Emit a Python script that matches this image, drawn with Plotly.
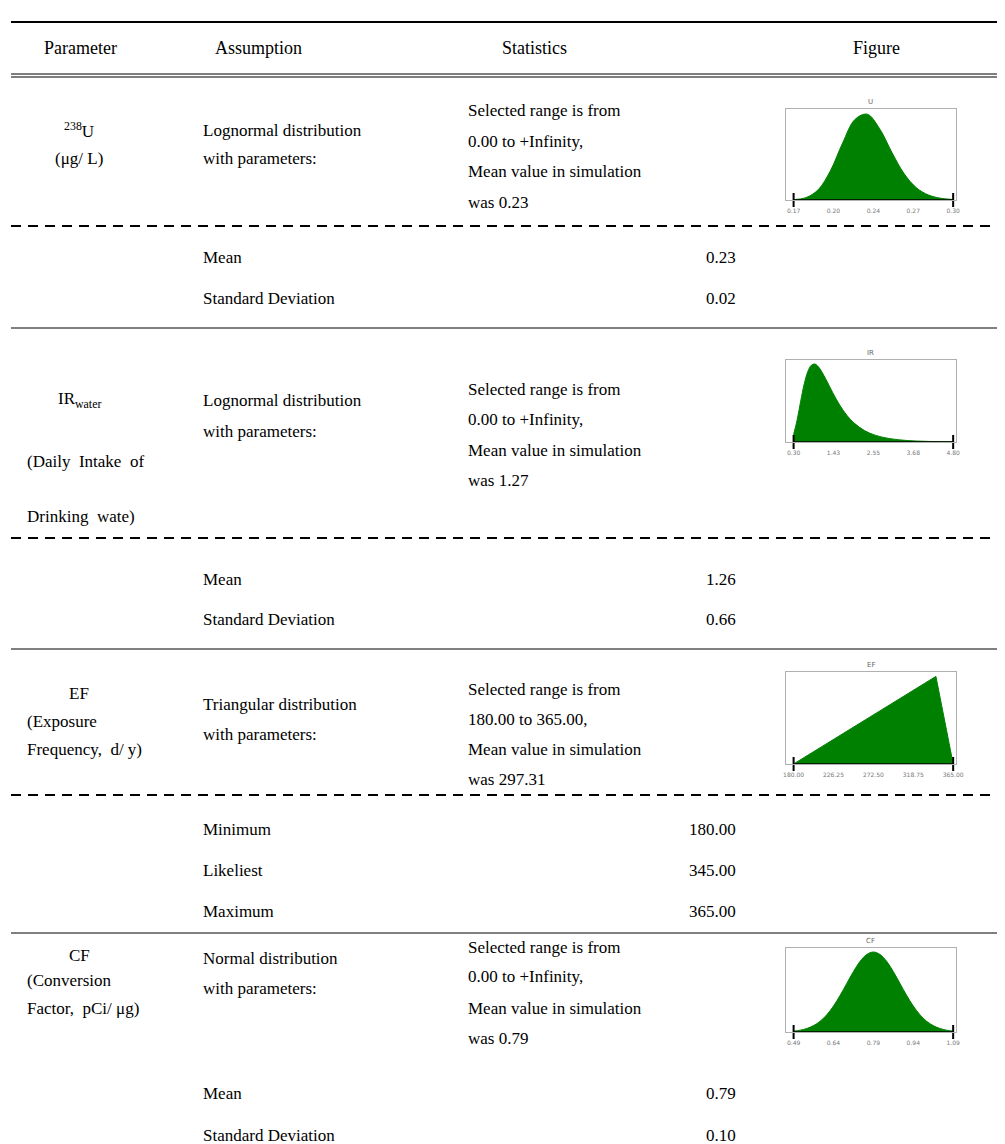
import plotly.graph_objects as go

W, H = 1005, 1144

# ---------------- data ----------------
headers = ["Parameter", "Assumption", "Statistics", "Figure"]
param_labels = [
    ["<sup>238</sup>U", "(μg/ L)"],
    ["IR<sub>water</sub>", "(Daily  Intake  of", "Drinking  wate)"],
    ["EF", "(Exposure", "Frequency,  d/ y)"],
    ["CF", "(Conversion", "Factor,  pCi/ μg)"],
]
assumptions = ["Lognormal distribution", "Lognormal distribution",
               "Triangular distribution", "Normal distribution"]
assumption_sub = "with parameters:"
stats_text = [
    ["Selected range is from", "0.00 to +Infinity,", "Mean value in simulation", "was 0.23"],
    ["Selected range is from", "0.00 to +Infinity,", "Mean value in simulation", "was 1.27"],
    ["Selected range is from", "180.00 to 365.00,", "Mean value in simulation", "was 297.31"],
    ["Selected range is from", "0.00 to +Infinity,", "Mean value in simulation", "was 0.79"],
]
param_names = [["Mean", "Standard Deviation"],
               ["Mean", "Standard Deviation"],
               ["Minimum", "Likeliest", "Maximum"],
               ["Mean", "Standard Deviation"]]
param_values = [["0.23", "0.02"],
                ["1.26", "0.66"],
                ["180.00", "345.00", "365.00"],
                ["0.79", "0.10"]]

# distribution shapes (relative height)
u_x = [0.17, 0.18, 0.19, 0.20, 0.21, 0.22, 0.23, 0.24, 0.25, 0.26, 0.27, 0.28, 0.29, 0.30]
u_y = [0.004, 0.027, 0.118, 0.337, 0.66, 0.93, 0.99, 0.825, 0.552, 0.305, 0.142, 0.057, 0.020, 0.006]
u_ticks = ["0.17", "0.20", "0.24", "0.27", "0.30"]

ir_x = [0.3, 0.4, 0.5, 0.6, 0.7, 0.8, 0.9, 1.0, 1.2, 1.4, 1.6, 1.8, 2.0,
        2.3, 2.6, 3.0, 3.5, 4.0, 4.5, 4.8]
ir_y = [0.094, 0.282, 0.523, 0.744, 0.901, 0.983, 0.998, 0.963, 0.814,
        0.635, 0.473, 0.343, 0.245, 0.146, 0.087, 0.044, 0.019, 0.009, 0.004, 0.0025]
ir_ticks = ["0.30", "1.43", "2.55", "3.68", "4.80"]

ef_x = [180.0, 345.0, 365.0]
ef_y = [0.0, 1.0, 0.0]
ef_ticks = ["180.00", "226.25", "272.50", "318.75", "365.00"]

cf_x = [0.49, 0.515, 0.54, 0.565, 0.59, 0.615, 0.64, 0.665, 0.69, 0.715, 0.74, 0.765,
        0.79, 0.815, 0.84, 0.865, 0.89, 0.915, 0.94, 0.965, 0.99, 1.015, 1.04, 1.065, 1.09]
cf_y = [0.011, 0.023, 0.044, 0.080, 0.135, 0.216, 0.325, 0.458, 0.607, 0.755, 0.883, 0.969,
        1.0, 0.969, 0.883, 0.755, 0.607, 0.458, 0.325, 0.216, 0.135, 0.080, 0.044, 0.023, 0.011]
cf_ticks = ["0.49", "0.64", "0.79", "0.94", "1.09"]

fig_titles = ["U", "IR", "EF", "CF"]
dists = [(u_x, u_y, u_ticks, "spline"), (ir_x, ir_y, ir_ticks, "spline"),
         (ef_x, ef_y, ef_ticks, "linear"), (cf_x, cf_y, cf_ticks, "spline")]

# ---------------- layout positions (pixels) ----------------
def px(x):
    return x / W

def py(y):
    return 1 - y / H

FONT = "Liberation Serif"
BODY = 17
header_x = [70, 250, 529, 875]
header_y = 40
param_center_x = 69
param_left_x = 14
assump_x = 192
stats_x = 460
value_right_x = 735
fig_x0, fig_x1 = 784, 955
param_y = [[122, 151], [392, 453, 508], [685, 713, 741], [947, 972, 1000]]
assump_y = [[122, 151], [392, 423], [696, 726], [950, 980]]
stats_y = [[102, 133, 164, 194], [381, 411, 442, 473], [681, 711, 741, 771], [939, 969, 1000, 1030]]
pv_y = [[249, 290], [571, 611], [821, 862, 903], [1085, 1127]]
fig_box = [(101, 192), (352, 434), (664, 756), (940, 1024)]
dash_lines = [218, 530, 787]
solid_lines = [320, 641, 925]

fig = go.Figure()
annotations = []
shapes = []

def add_text(x, y, text, anchor="left", size=BODY):
    annotations.append(dict(x=px(x), y=py(y), xref="paper", yref="paper", text=text,
                            showarrow=False, xanchor=anchor, yanchor="middle",
                            font=dict(family=FONT, size=size, color="black")))

for hx, h in zip(header_x, headers):
    add_text(hx, header_y, h, "center", 18)

for i in range(4):
    labels = param_labels[i]
    for j, lab in enumerate(labels):
        if j == 0 or i == 0:
            add_text(param_center_x, param_y[i][j], lab, "center")
        else:
            add_text(param_left_x, param_y[i][j], lab, "left")
    add_text(assump_x, assump_y[i][0], assumptions[i])
    add_text(assump_x, assump_y[i][1], assumption_sub)
    for j, s in enumerate(stats_text[i]):
        add_text(stats_x, stats_y[i][j], s)
    for j, (n, v) in enumerate(zip(param_names[i], param_values[i])):
        add_text(assump_x, pv_y[i][j], n)
        add_text(value_right_x, pv_y[i][j], v, "right")

# rules
shapes.append(dict(type="line", xref="paper", yref="paper", x0=0, x1=1, y0=py(14), y1=py(14),
                   line=dict(color="black", width=2)))
for yy in (66, 69):
    shapes.append(dict(type="line", xref="paper", yref="paper", x0=0, x1=1, y0=py(yy), y1=py(yy),
                       line=dict(color="black", width=1.2)))
for yy in dash_lines:
    shapes.append(dict(type="line", xref="paper", yref="paper", x0=0, x1=1, y0=py(yy), y1=py(yy),
                       line=dict(color="black", width=2, dash="10px,7px")))
for yy in solid_lines:
    shapes.append(dict(type="line", xref="paper", yref="paper", x0=0, x1=1, y0=py(yy), y1=py(yy),
                       line=dict(color="black", width=1)))

# mini figures
for k, ((xs, ys, ticks, shape), (top, bot)) in enumerate(zip(dists, fig_box)):
    ax = "" if k == 0 else str(k + 1)
    span = xs[-1] - xs[0]
    fig.add_trace(go.Scatter(x=xs, y=ys, mode="lines", fill="tozeroy", fillcolor="#008000",
                             line=dict(color="#008000", width=1, shape=shape),
                             xaxis="x" + ax, yaxis="y" + ax, showlegend=False, hoverinfo="skip"))
    fig.add_trace(go.Scatter(x=[xs[0], xs[-1]], y=[0, 0], mode="lines+markers",
                             line=dict(color="black", width=1.5),
                             marker=dict(symbol="line-ns-open", size=10, line=dict(color="black", width=2)),
                             cliponaxis=False, xaxis="x" + ax, yaxis="y" + ax,
                             showlegend=False, hoverinfo="skip"))
    tv = [xs[0] + span * t / 4 for t in range(5)]
    fig.update_layout(**{
        "xaxis" + ax: dict(domain=[px(fig_x0), px(fig_x1)], anchor="y" + ax,
                           range=[xs[0] - 0.045 * span, xs[-1] + 0.015 * span],
                           showgrid=False, zeroline=False, showline=True, mirror=True,
                           linecolor="#b0b0b0", linewidth=1, tickvals=tv, ticktext=ticks,
                           tickfont=dict(size=6, color="#777777", family="DejaVu Sans"),
                           ticks="outside", ticklen=5, tickcolor="rgba(0,0,0,0)",
                           fixedrange=True),
        "yaxis" + ax: dict(domain=[py(bot), py(top)], anchor="x" + ax, range=[0, 1.05],
                           showgrid=False, zeroline=False, showline=True, mirror=True,
                           linecolor="#b0b0b0", linewidth=1, showticklabels=False,
                           ticks="", fixedrange=True),
    })
    annotations.append(dict(x=px((fig_x0 + fig_x1) / 2), y=py(top - 7), xref="paper", yref="paper",
                            text=fig_titles[k], showarrow=False, xanchor="center", yanchor="middle",
                            font=dict(family="DejaVu Sans", size=7, color="#666666")))

fig.update_layout(width=W, height=H, margin=dict(l=0, r=0, t=0, b=0),
                  paper_bgcolor="white", plot_bgcolor="white",
                  annotations=annotations, shapes=shapes)

fig.write_html("out.html")
